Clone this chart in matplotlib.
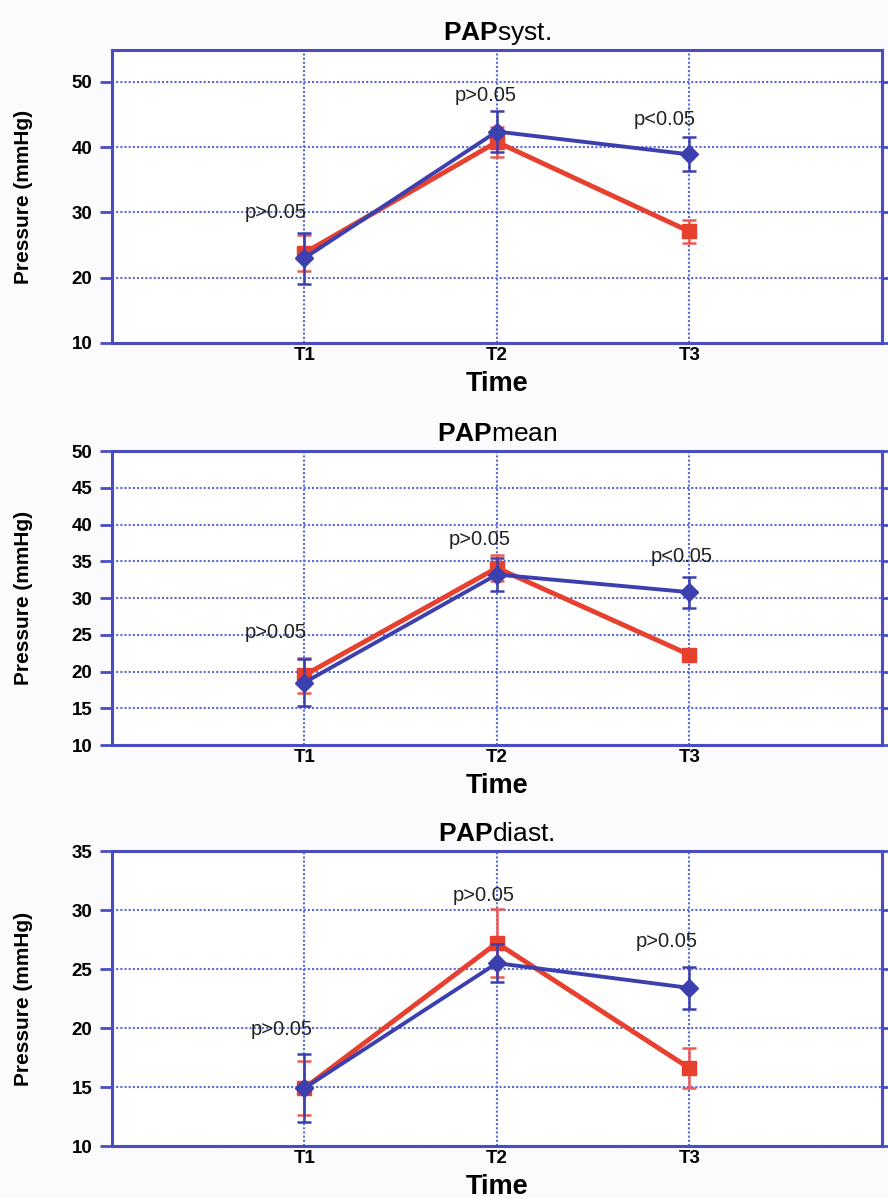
import matplotlib
matplotlib.use("Agg")
import matplotlib.pyplot as plt

plt.rcParams["font.family"] = ["Liberation Sans", "DejaVu Sans"]
plt.rcParams["mathtext.fontset"] = "custom"
plt.rcParams["mathtext.rm"] = "Liberation Sans"
plt.rcParams["mathtext.bf"] = "Liberation Sans:bold"

# data
times = ["T1", "T2", "T3"]
titles = [r"$\mathbf{PAP}$syst.", r"$\mathbf{PAP}$mean", r"$\mathbf{PAP}$diast."]

syst_red = [23.8, 40.8, 27.1]
syst_red_err = [2.8, 2.3, 1.8]
syst_blue = [23.0, 42.4, 38.9]
syst_blue_err = [3.9, 3.1, 2.6]

mean_red = [19.5, 34.1, 22.3]
mean_red_err = [2.4, 1.8, 0.5]
mean_blue = [18.5, 33.2, 30.8]
mean_blue_err = [3.2, 2.2, 2.1]

diast_red = [14.9, 27.2, 16.6]
diast_red_err = [2.3, 2.9, 1.7]
diast_blue = [14.9, 25.5, 23.4]
diast_blue_err = [2.9, 1.6, 1.8]

p_syst = ["p>0.05", "p>0.05", "p<0.05"]
p_mean = ["p>0.05", "p>0.05", "p<0.05"]
p_diast = ["p>0.05", "p>0.05", "p>0.05"]

BLUE = "#3c3fae"
RED = "#e8402f"
SPINE = "#4a4cc4"
GRID = "#5a6ad8"

panels = [
    dict(title=titles[0], red=syst_red, red_err=syst_red_err, blue=syst_blue,
         blue_err=syst_blue_err, p=p_syst, ylim=(10, 54.9), yticks=range(10, 51, 10),
         p_x=[0.85, 1.94, 2.87], p_y=[30.0, 47.9, 44.2], rect=(0.126, 0.7137, 0.867, 0.2446)),
    dict(title=titles[1], red=mean_red, red_err=mean_red_err, blue=mean_blue,
         blue_err=mean_blue_err, p=p_mean, ylim=(10, 50), yticks=range(10, 51, 5),
         p_x=[0.85, 1.91, 2.96], p_y=[25.3, 38.0, 35.6], rect=(0.126, 0.3781, 0.867, 0.2454)),
    dict(title=titles[2], red=diast_red, red_err=diast_red_err, blue=diast_blue,
         blue_err=diast_blue_err, p=p_diast, ylim=(10, 35), yticks=range(10, 36, 5),
         p_x=[0.88, 1.93, 2.88], p_y=[19.9, 31.2, 27.3], rect=(0.126, 0.0434, 0.867, 0.2462)),
]

fig = plt.figure(figsize=(8.88, 11.98), dpi=100, facecolor="#fbfbfd")
x = [1, 2, 3]

for cfg in panels:
    ax = fig.add_axes(cfg["rect"])
    ax.set_facecolor("white")
    ax.errorbar(x, cfg["red"], yerr=cfg["red_err"], color=RED, ecolor="#ec5a50", lw=3.5,
                elinewidth=1.8, capsize=5, capthick=1.8, marker="s", ms=10, mec=RED, zorder=3)
    ax.errorbar(x, cfg["blue"], yerr=cfg["blue_err"], color=BLUE, ecolor=BLUE, lw=2.8,
                elinewidth=1.8, capsize=5, capthick=1.8, marker="D", ms=9.5, mec=BLUE, zorder=4)
    for label, px, py in zip(cfg["p"], cfg["p_x"], cfg["p_y"]):
        ax.text(px, py, label, ha="center", va="center", fontsize=14.5, color="#222222", zorder=5)

    ax.set_xlim(0, 4)
    ax.set_ylim(*cfg["ylim"])
    ax.set_xticks(x)
    ax.set_xticklabels(times, fontsize=13.5, fontweight="bold")
    ax.set_yticks(list(cfg["yticks"]))
    ax.tick_params(axis="x", length=0, pad=3)
    ax.tick_params(axis="y", length=9, width=2, color=SPINE, labelsize=13.5, pad=5,
                   right=True)
    for t in ax.get_yticklabels():
        t.set_fontweight("bold")
    for sp in ax.spines.values():
        sp.set_color(SPINE)
        sp.set_linewidth(2.2)
    ax.grid(True, color=GRID, linestyle=(0, (1, 1)), linewidth=1.5, zorder=0)
    ax.set_axisbelow(True)

    ax.set_xlabel("Time", fontsize=19.5, fontweight="bold")
    ax.xaxis.set_label_coords(0.5, -0.095)
    ax.set_ylabel("Pressure (mmHg)", fontsize=15, fontweight="bold")
    ax.yaxis.set_label_coords(-0.103, 0.5)
    ax.set_title(cfg["title"], fontsize=19, pad=7)

fig.savefig("out.png", dpi=100, facecolor=fig.get_facecolor())
